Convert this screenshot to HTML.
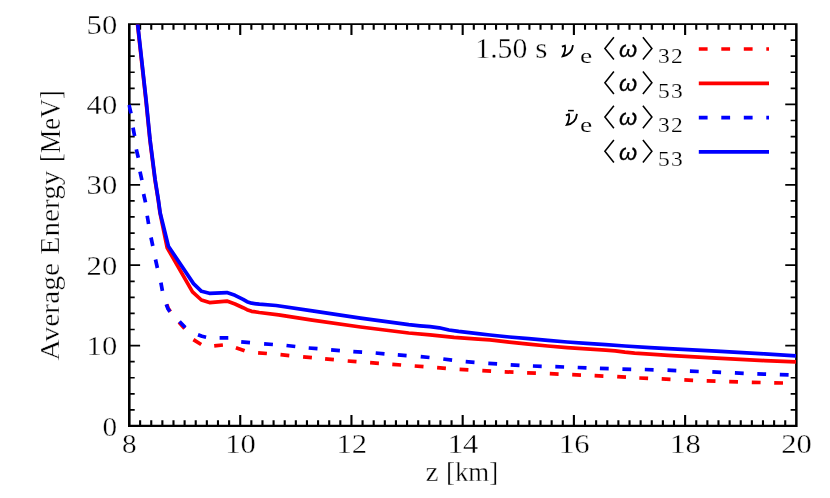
<!DOCTYPE html>
<html><head><meta charset="utf-8"><title>Average Energy vs z</title>
<style>html,body{margin:0;padding:0;background:#fff;}svg{display:block;will-change:transform;}text{font-family:"Liberation Serif", serif;fill:#000;stroke:#fff;stroke-width:0.35px;}</style></head><body>
<svg width="830" height="498" viewBox="0 0 830 498">
<rect x="0" y="0" width="830" height="498" fill="#fff"/>
<defs><clipPath id="c"><rect x="127.4" y="24.6" width="669.4" height="401.4"/></clipPath></defs>
<path d="M140.12 426.00V420.30M140.12 24.00V29.70M151.25 426.00V420.30M151.25 24.00V29.70M162.37 426.00V420.30M162.37 24.00V29.70M173.49 426.00V420.30M173.49 24.00V29.70M184.61 426.00V420.30M184.61 24.00V29.70M195.73 426.00V420.30M195.73 24.00V29.70M206.86 426.00V420.30M206.86 24.00V29.70M217.98 426.00V420.30M217.98 24.00V29.70M229.10 426.00V420.30M229.10 24.00V29.70M240.23 426.00V414.90M240.23 24.00V35.10M251.35 426.00V420.30M251.35 24.00V29.70M262.47 426.00V420.30M262.47 24.00V29.70M273.59 426.00V420.30M273.59 24.00V29.70M284.72 426.00V420.30M284.72 24.00V29.70M295.84 426.00V420.30M295.84 24.00V29.70M306.96 426.00V420.30M306.96 24.00V29.70M318.08 426.00V420.30M318.08 24.00V29.70M329.20 426.00V420.30M329.20 24.00V29.70M340.33 426.00V420.30M340.33 24.00V29.70M351.45 426.00V414.90M351.45 24.00V35.10M362.57 426.00V420.30M362.57 24.00V29.70M373.70 426.00V420.30M373.70 24.00V29.70M384.82 426.00V420.30M384.82 24.00V29.70M395.94 426.00V420.30M395.94 24.00V29.70M407.06 426.00V420.30M407.06 24.00V29.70M418.19 426.00V420.30M418.19 24.00V29.70M429.31 426.00V420.30M429.31 24.00V29.70M440.43 426.00V420.30M440.43 24.00V29.70M451.55 426.00V420.30M451.55 24.00V29.70M462.68 426.00V414.90M462.68 24.00V35.10M473.80 426.00V420.30M473.80 24.00V29.70M484.92 426.00V420.30M484.92 24.00V29.70M496.04 426.00V420.30M496.04 24.00V29.70M507.17 426.00V420.30M507.17 24.00V29.70M518.29 426.00V420.30M518.29 24.00V29.70M529.41 426.00V420.30M529.41 24.00V29.70M540.53 426.00V420.30M540.53 24.00V29.70M551.66 426.00V420.30M551.66 24.00V29.70M562.78 426.00V420.30M562.78 24.00V29.70M573.90 426.00V414.90M573.90 24.00V35.10M585.02 426.00V420.30M585.02 24.00V29.70M596.14 426.00V420.30M596.14 24.00V29.70M607.27 426.00V420.30M607.27 24.00V29.70M618.39 426.00V420.30M618.39 24.00V29.70M629.51 426.00V420.30M629.51 24.00V29.70M640.64 426.00V420.30M640.64 24.00V29.70M651.76 426.00V420.30M651.76 24.00V29.70M662.88 426.00V420.30M662.88 24.00V29.70M674.00 426.00V420.30M674.00 24.00V29.70M685.12 426.00V414.90M685.12 24.00V35.10M696.25 426.00V420.30M696.25 24.00V29.70M707.37 426.00V420.30M707.37 24.00V29.70M718.49 426.00V420.30M718.49 24.00V29.70M729.62 426.00V420.30M729.62 24.00V29.70M740.74 426.00V420.30M740.74 24.00V29.70M751.86 426.00V420.30M751.86 24.00V29.70M762.98 426.00V420.30M762.98 24.00V29.70M774.11 426.00V420.30M774.11 24.00V29.70M785.23 426.00V420.30M785.23 24.00V29.70" stroke="#000" stroke-width="2.1" fill="none"/>
<path d="M129.00 409.92H134.70M796.35 409.92H790.65M129.00 393.84H134.70M796.35 393.84H790.65M129.00 377.76H134.70M796.35 377.76H790.65M129.00 361.68H134.70M796.35 361.68H790.65M129.00 345.60H140.10M796.35 345.60H785.25M129.00 329.52H134.70M796.35 329.52H790.65M129.00 313.44H134.70M796.35 313.44H790.65M129.00 297.36H134.70M796.35 297.36H790.65M129.00 281.28H134.70M796.35 281.28H790.65M129.00 265.20H140.10M796.35 265.20H785.25M129.00 249.12H134.70M796.35 249.12H790.65M129.00 233.04H134.70M796.35 233.04H790.65M129.00 216.96H134.70M796.35 216.96H790.65M129.00 200.88H134.70M796.35 200.88H790.65M129.00 184.80H140.10M796.35 184.80H785.25M129.00 168.72H134.70M796.35 168.72H790.65M129.00 152.64H134.70M796.35 152.64H790.65M129.00 136.56H134.70M796.35 136.56H790.65M129.00 120.48H134.70M796.35 120.48H790.65M129.00 104.40H140.10M796.35 104.40H785.25M129.00 88.32H134.70M796.35 88.32H790.65M129.00 72.24H134.70M796.35 72.24H790.65M129.00 56.16H134.70M796.35 56.16H790.65M129.00 40.08H134.70M796.35 40.08H790.65" stroke="#000" stroke-width="1.7" fill="none"/>
<path d="M128.00 23.15H797.60V427.10H128.00Z M130.60 24.95V424.80H795.10V24.95Z" fill="#000" fill-rule="evenodd"/>
<g clip-path="url(#c)" fill="none" stroke-linejoin="round">
<path d="M166.8 304.3L168.3 308.5L170.4 311.6M179.0 322.3L184.6 328.6M193.4 339.6L201.2 344.5M214.2 345.9L222.9 345.0M235.9 347.7L244.6 350.8" stroke="#f00" stroke-width="3.7"/>
<path d="M258.1 352.8L266.9 353.5M280.5 354.7L289.3 355.6M303.1 356.9L311.9 357.7M325.1 358.8L333.9 359.7M347.7 361.0L356.5 361.7M370.1 362.7L378.9 363.3M392.3 364.3L401.1 365.0M414.7 366.0L423.5 366.7M437.1 367.7L445.9 368.4M459.6 369.4L468.4 369.9M482.3 370.6L491.1 371.1M504.7 371.8L513.5 372.2M527.1 372.8L535.9 373.1M549.8 373.7L558.6 374.1M572.2 374.7L581.0 375.1M594.6 375.7L603.4 376.1M617.2 376.6L626.0 377.2M639.3 378.0L648.1 378.4M661.7 378.9L670.5 379.3M684.3 379.9L693.1 380.3M706.7 380.8L715.5 381.1M729.2 381.6L738.0 381.9M751.8 382.3L760.6 382.5M774.2 382.8L783.0 383.0" stroke="#f00" stroke-width="3.7" fill="none"/>
<polyline points="136.1,10.0 137.5,24.0 145.9,100.0 149.9,140.0 155.0,180.0 158.2,200.0 160.0,213.0 167.2,247.8 192.5,291.8 201.4,300.0 209.5,302.6 226.9,301.1 235.0,304.0 243.1,307.7 247.0,309.7 251.6,311.3 259.3,312.5 278.6,314.9 312.3,320.2 360.5,327.0 408.7,333.0 430.0,334.8 454.1,337.3 478.2,339.1 490.0,339.9 509.3,342.2 528.6,344.1 547.8,346.0 567.1,347.6 586.4,348.9 605.7,350.1 615.3,350.8 624.9,352.2 634.6,353.2 650.0,354.1 668.2,355.3 716.4,358.2 764.6,360.6 796.0,361.8" stroke="#f00" stroke-width="3.7"/>
<path d="M129.0 104.8L131.0 113.4M133.0 127.7L134.6 136.0M136.3 149.4L138.3 157.8M140.0 171.6L141.9 180.2M143.6 194.0L145.5 202.4M147.2 215.7L148.6 224.0M151.0 237.5L152.8 246.0M155.5 259.5L157.4 268.0M160.9 282.7L162.4 290.8M166.3 304.3L167.8 308.5L169.9 311.6M179.5 321.5L185.3 327.5M198.0 334.7L202.0 336.2L206.1 337.2M219.6 337.8L228.3 337.8" stroke="#00f" stroke-width="3.7"/>
<path d="M241.2 341.9L250.0 342.7M264.1 343.9L272.9 344.5M286.5 345.5L295.3 346.5M308.7 348.0L317.5 348.7M331.1 349.9L339.9 350.6M353.3 351.6L362.1 352.2M375.7 353.0L384.5 353.8M397.8 354.9L406.6 355.6M420.7 356.6L429.5 357.5M443.3 359.0L452.1 360.1M465.7 361.7L474.5 362.4M488.3 363.4L497.1 363.9M510.7 364.8L519.5 365.3M532.9 366.0L541.7 366.3M555.3 366.7L564.1 367.0M577.7 367.5L586.5 367.9M599.9 368.4L608.7 368.7M622.4 369.1L631.2 369.3M644.8 369.5L653.6 369.8M667.5 370.2L676.3 370.6M689.9 371.2L698.7 371.5M712.3 371.9L721.1 372.3M734.9 372.9L743.7 373.3M757.3 373.9L766.1 374.2M779.8 374.6L788.6 374.9" stroke="#00f" stroke-width="3.7" fill="none"/>
<polyline points="136.2,10.0 137.7,24.0 146.1,100.0 150.1,140.0 155.2,180.0 158.4,200.0 160.2,213.0 168.4,246.2 193.5,283.6 201.5,291.3 209.4,293.3 226.9,292.6 235.0,295.3 243.1,299.4 247.0,301.7 251.6,303.2 259.3,304.2 276.1,305.5 312.3,310.8 360.5,318.1 408.7,324.6 420.0,325.8 430.0,326.7 439.3,327.8 448.9,330.0 458.6,331.4 477.8,333.7 490.0,335.0 509.3,337.0 528.6,338.7 547.8,340.4 567.1,342.0 586.4,343.3 605.7,344.7 624.9,346.0 650.0,347.6 668.2,348.6 716.4,351.2 764.6,353.9 796.0,355.8" stroke="#00f" stroke-width="3.7"/>
</g>
<g fill="none" stroke-width="3.7">
<path d="M698.8 49.0H769.0" stroke="#f00" stroke-dasharray="8.8 13.7"/>
<path d="M698.8 83.3H769.0" stroke="#f00"/>
<path d="M698.8 117.6H769.0" stroke="#00f" stroke-dasharray="8.8 13.7"/>
<path d="M698.8 151.9H769.0" stroke="#00f"/>
</g>
<g font-size="28">
<text x="117.2" y="435.6" text-anchor="end" textLength="14.6" lengthAdjust="spacingAndGlyphs">0</text>
<text x="117.2" y="355.2" text-anchor="end" textLength="30.6" lengthAdjust="spacingAndGlyphs">10</text>
<text x="117.2" y="274.8" text-anchor="end" textLength="30.6" lengthAdjust="spacingAndGlyphs">20</text>
<text x="117.2" y="194.4" text-anchor="end" textLength="30.6" lengthAdjust="spacingAndGlyphs">30</text>
<text x="117.2" y="114.0" text-anchor="end" textLength="30.6" lengthAdjust="spacingAndGlyphs">40</text>
<text x="117.2" y="33.6" text-anchor="end" textLength="30.6" lengthAdjust="spacingAndGlyphs">50</text>
<text x="129.3" y="453.4" text-anchor="middle" textLength="14.6" lengthAdjust="spacingAndGlyphs">8</text>
<text x="240.5" y="453.4" text-anchor="middle" textLength="30.6" lengthAdjust="spacingAndGlyphs">10</text>
<text x="351.8" y="453.4" text-anchor="middle" textLength="30.6" lengthAdjust="spacingAndGlyphs">12</text>
<text x="463.0" y="453.4" text-anchor="middle" textLength="30.6" lengthAdjust="spacingAndGlyphs">14</text>
<text x="574.2" y="453.4" text-anchor="middle" textLength="30.6" lengthAdjust="spacingAndGlyphs">16</text>
<text x="685.4" y="453.4" text-anchor="middle" textLength="30.6" lengthAdjust="spacingAndGlyphs">18</text>
<text x="796.6" y="453.4" text-anchor="middle" textLength="30.6" lengthAdjust="spacingAndGlyphs">20</text>
</g>
<text x="425.6" y="480.7" font-size="27" textLength="13" lengthAdjust="spacingAndGlyphs">z</text>
<text x="446.0" y="480.7" font-size="27.5" textLength="52.2" lengthAdjust="spacingAndGlyphs">[km]</text>
<g transform="translate(59.3 0) rotate(-90)" font-size="28">
<text x="-360.5" y="0" textLength="97.5" lengthAdjust="spacingAndGlyphs">Average</text>
<text x="-254.5" y="0" textLength="84" lengthAdjust="spacingAndGlyphs">Energy</text>
<text x="-162" y="0.3" font-size="29" textLength="71.8" lengthAdjust="spacingAndGlyphs">[MeV]</text>
</g>
<text x="475.3" y="58" font-size="28.5" textLength="52.0" lengthAdjust="spacingAndGlyphs">1.50</text>
<text x="535.2" y="58" font-size="28.5" textLength="12.2" lengthAdjust="spacingAndGlyphs">s</text>
<path d="M613.9 37.2L604.9 48.4L613.9 59.6M642.9 37.2L651.9 48.4L642.9 59.6" fill="none" stroke="#000" stroke-width="1.55" stroke-linejoin="miter"/>
<text x="628.2" y="56.6" font-size="23" text-anchor="middle" textLength="18.2" lengthAdjust="spacingAndGlyphs" style="font-family:'Liberation Sans', sans-serif;font-style:italic;stroke:#000;stroke-width:0.25px">&#969;</text>
<text transform="translate(657.9 63.2) scale(1.12 1)" font-size="21" style="letter-spacing:1.1px;stroke-width:0.2px">32</text>
<path d="M561.9 46.7L564.9 45.6C565.7 49 564.6 53 562.7 56.3C567.5 55.5 572.2 52 573 45.2" transform="translate(0.0 0.0)" fill="none" stroke="#000" stroke-width="1.8" stroke-linejoin="miter" stroke-miterlimit="6"/>
<text x="580.1" y="63.2" font-size="21.5" textLength="12.2" lengthAdjust="spacingAndGlyphs" style="stroke-width:0.15px">e</text>
<path d="M613.9 71.5L604.9 82.7L613.9 93.9M642.9 71.5L651.9 82.7L642.9 93.9" fill="none" stroke="#000" stroke-width="1.55" stroke-linejoin="miter"/>
<text x="628.2" y="90.9" font-size="23" text-anchor="middle" textLength="18.2" lengthAdjust="spacingAndGlyphs" style="font-family:'Liberation Sans', sans-serif;font-style:italic;stroke:#000;stroke-width:0.25px">&#969;</text>
<text transform="translate(657.9 97.5) scale(1.12 1)" font-size="21" style="letter-spacing:1.1px;stroke-width:0.2px">53</text>
<path d="M613.9 105.8L604.9 117.0L613.9 128.2M642.9 105.8L651.9 117.0L642.9 128.2" fill="none" stroke="#000" stroke-width="1.55" stroke-linejoin="miter"/>
<text x="628.2" y="125.2" font-size="23" text-anchor="middle" textLength="18.2" lengthAdjust="spacingAndGlyphs" style="font-family:'Liberation Sans', sans-serif;font-style:italic;stroke:#000;stroke-width:0.25px">&#969;</text>
<text transform="translate(657.9 131.8) scale(1.12 1)" font-size="21" style="letter-spacing:1.1px;stroke-width:0.2px">32</text>
<path d="M561.9 46.7L564.9 45.6C565.7 49 564.6 53 562.7 56.3C567.5 55.5 572.2 52 573 45.2" transform="translate(4.0 68.6)" fill="none" stroke="#000" stroke-width="1.8" stroke-linejoin="miter" stroke-miterlimit="6"/>
<text x="580.1" y="131.8" font-size="21.5" textLength="12.2" lengthAdjust="spacingAndGlyphs" style="stroke-width:0.15px">e</text>
<path d="M568.0 110.6H573.8" stroke="#000" stroke-width="1.5" fill="none"/>
<path d="M613.9 140.1L604.9 151.3L613.9 162.5M642.9 140.1L651.9 151.3L642.9 162.5" fill="none" stroke="#000" stroke-width="1.55" stroke-linejoin="miter"/>
<text x="628.2" y="159.5" font-size="23" text-anchor="middle" textLength="18.2" lengthAdjust="spacingAndGlyphs" style="font-family:'Liberation Sans', sans-serif;font-style:italic;stroke:#000;stroke-width:0.25px">&#969;</text>
<text transform="translate(657.9 166.1) scale(1.12 1)" font-size="21" style="letter-spacing:1.1px;stroke-width:0.2px">53</text>
</svg></body></html>
